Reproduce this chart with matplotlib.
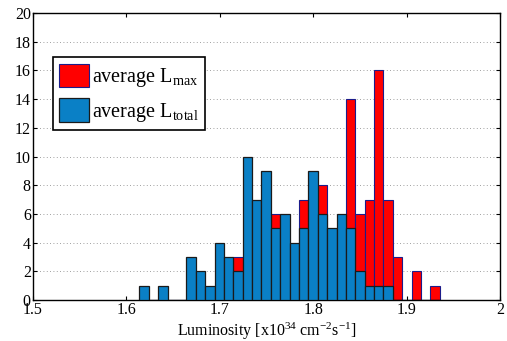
import numpy as np
import matplotlib
matplotlib.use('Agg')
import matplotlib.pyplot as plt

plt.rcParams['font.family'] = ['Liberation Serif', 'DejaVu Serif']
plt.rcParams['mathtext.fontset'] = 'custom'
plt.rcParams['mathtext.rm'] = 'Liberation Serif'
plt.rcParams['mathtext.it'] = 'Liberation Serif:italic'

# histogram bins (left edge of first bin, bin width)
bin_start = 1.614
bin_width = 0.01005

# counts per bin (hidden red parts set to 0)
l_total = [1, 0, 1, 0, 0, 3, 2, 1, 4, 3, 2, 10, 7, 9, 5, 6,
           4, 5, 9, 6, 5, 6, 5, 2, 1, 1, 1, 0, 0, 0, 0, 0]
l_max = [0, 0, 0, 0, 0, 0, 0, 0, 0, 0, 3, 0, 0, 0, 6, 0,
         0, 7, 0, 8, 0, 0, 14, 6, 7, 16, 7, 3, 0, 2, 0, 1]

xticks = [1.5, 1.6, 1.7, 1.8, 1.9, 2.0]
xticklabels = ['1.5', '1.6', '1.7', '1.8', '1.9', '2']
yticks = np.arange(0, 21, 2)

edges = bin_start + bin_width * np.arange(len(l_total))

fig = plt.figure(figsize=(5.07, 3.41), dpi=100)
ax = fig.add_axes([0.065, 0.12, 0.921, 0.842])

ax.bar(edges, l_max, width=bin_width, align='edge', color='#ff0000',
       edgecolor='#1c1c8a', linewidth=0.8, label='average L$_{\\rm max}$', zorder=2)
ax.bar(edges, l_total, width=bin_width, align='edge', color='#0a80c6',
       edgecolor='#1a1a1a', linewidth=0.9, label='average L$_{\\rm total}$', zorder=3)

ax.set_xlim(1.5, 2.0)
ax.set_ylim(0, 20)
ax.set_xticks(xticks)
ax.set_xticklabels(xticklabels)
ax.set_yticks(yticks)
ax.tick_params(direction='in', top=True, right=True, labelsize=11.5, length=3, pad=1.5)
ax.yaxis.grid(True, linestyle=(0, (1, 3)), color='#808080', linewidth=0.6)
ax.set_axisbelow(True)
for s in ax.spines.values():
    s.set_linewidth(1.0)

ax.set_xlabel('Luminosity [x10$^{34}$ cm$^{-2}$s$^{-1}$]', fontsize=11.5, labelpad=2)

leg = ax.legend(loc='upper left', bbox_to_anchor=(0.043, 0.845), fontsize=14.5,
                frameon=True, fancybox=False, edgecolor='black', framealpha=1,
                handlelength=1.5, handleheight=1.45, handletextpad=0.15,
                borderpad=0.3, labelspacing=0.45, borderaxespad=0)
leg.get_frame().set_linewidth(1.2)

fig.savefig('out.png', dpi=100)
